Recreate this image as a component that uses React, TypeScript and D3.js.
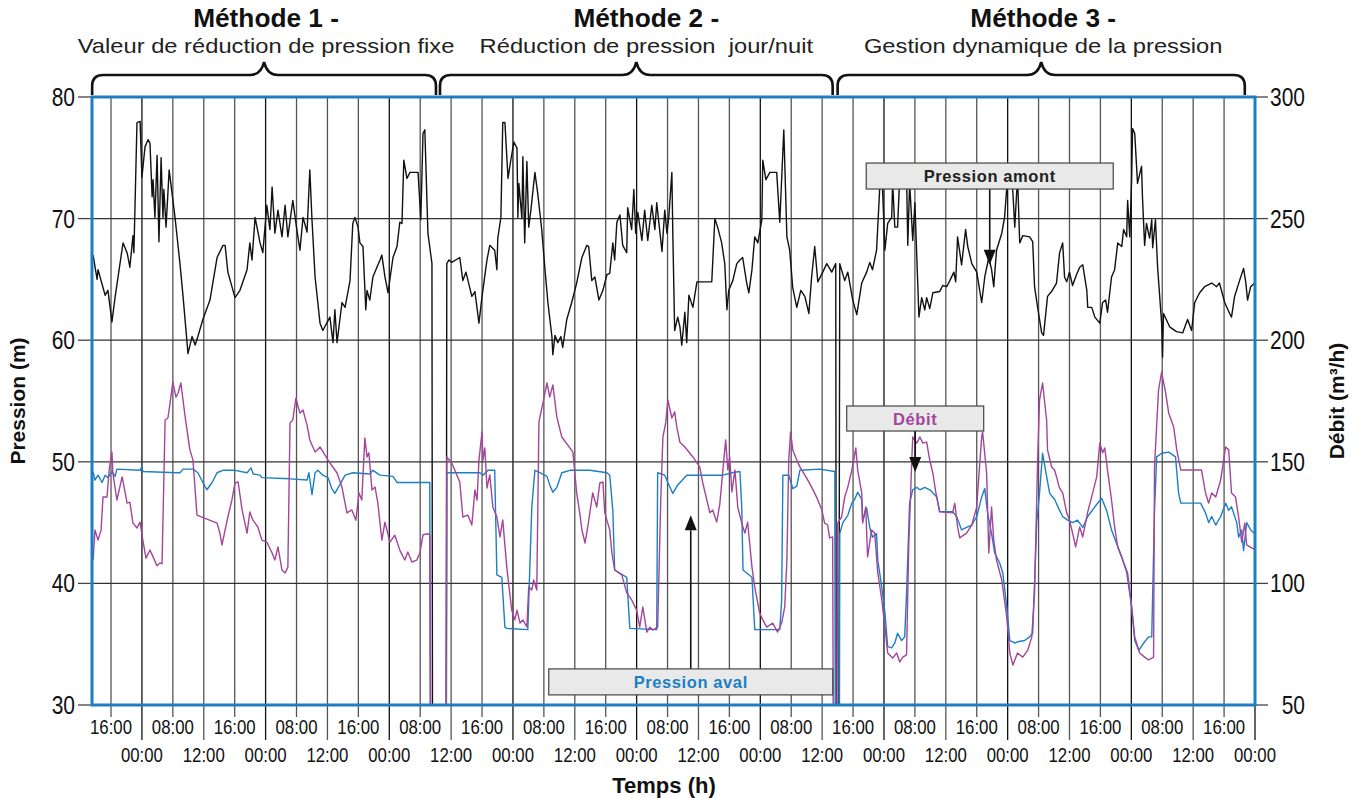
import React from 'react';
import * as d3 from 'd3';

// x unit: tick interval index (ticks at 0..37)
const TICK_LABELS = [
  '16:00','00:00','08:00','12:00','16:00','00:00','08:00','12:00','16:00','00:00',
  '08:00','12:00','16:00','00:00','08:00','12:00','16:00','00:00','08:00','12:00',
  '16:00','00:00','08:00','12:00','16:00','00:00','08:00','12:00','16:00','00:00',
  '08:00','12:00','16:00','00:00','08:00','12:00','16:00','00:00'
];
const PRESSION_TICKS = [30, 40, 50, 60, 70, 80];
const DEBIT_TICKS = [50, 100, 150, 200, 250, 300];
const PRESSION_GRID = [40, 50, 60, 70];

const METHOD_TITLES = ['Méthode 1 -', 'Méthode 2 -', 'Méthode 3 -'];
const METHOD_SUBTITLES = ['Valeur de réduction de pression fixe', 'Réduction de pression  jour/nuit', 'Gestion dynamique de la pression'];
const METHOD_SPANS = [[-0.61, 10.51], [10.64, 23.34], [23.5, 36.67]];

// Pression amont (m)
const AMONT = [
  [-0.58,67.0],[-0.45,65.0],[-0.42,65.8],[-0.19,63.7],[-0.10,64.1],[0.03,61.5],[0.13,63.5],[0.29,66.3],[0.39,68.0],[0.52,67.2],
  [0.61,66.0],[0.71,68.6],[0.74,67.2],[0.84,77.9],[0.94,78.0],[1.00,73.4],[1.10,75.9],[1.20,76.5],[1.26,76.2],[1.33,71.8],
  [1.36,73.2],[1.42,70.1],[1.49,75.2],[1.55,68.1],[1.62,75.0],[1.68,70.1],[1.71,72.4],[1.78,69.3],[1.88,74.0],[2.07,70.1],
  [2.23,66.3],[2.33,63.6],[2.49,58.9],[2.62,60.3],[2.72,59.6],[2.81,60.3],[2.97,61.7],[3.20,63.3],[3.43,66.8],[3.62,67.8],
  [3.69,67.8],[3.78,65.6],[4.01,63.5],[4.17,64.1],[4.40,65.8],[4.49,68.0],[4.56,66.6],[4.66,70.1],[4.82,68.0],[4.91,67.2],
  [5.04,71.1],[5.14,69.1],[5.21,72.6],[5.30,68.8],[5.40,70.7],[5.53,68.5],[5.63,71.1],[5.72,68.5],[5.88,71.5],[6.01,69.1],
  [6.11,67.4],[6.21,70.1],[6.34,68.9],[6.43,74.0],[6.50,69.9],[6.60,65.2],[6.76,61.4],[6.85,60.8],[7.08,61.9],[7.18,59.8],
  [7.24,62.5],[7.31,59.8],[7.47,63.1],[7.57,62.7],[7.73,64.9],[7.82,69.6],[7.89,70.1],[7.99,69.3],[8.05,68.0],[8.15,67.7],
  [8.24,62.5],[8.28,64.1],[8.37,63.3],[8.47,65.2],[8.60,66.0],[8.70,66.6],[8.76,67.0],[8.86,65.2],[8.96,63.9],[9.12,66.8],
  [9.25,67.7],[9.34,69.7],[9.41,69.6],[9.47,74.8],[9.57,73.3],[9.67,73.8],[9.93,73.8],[10.02,69.9],[10.09,77.0],[10.15,77.3],
  [10.25,68.8],[10.38,66.3],[10.41,0],[10.83,0],[10.86,66.3],[10.93,66.6],[11.02,66.4],[11.28,66.8],[11.38,64.9],[11.48,65.6],
  [11.67,63.6],[11.77,64.0],[11.90,61.4],[12.00,63.6],[12.16,66.6],[12.25,67.8],[12.41,67.4],[12.48,65.8],[12.51,68.4],[12.61,70.1],
  [12.67,77.9],[12.74,77.9],[12.84,73.3],[12.93,74.8],[13.03,76.3],[13.13,75.8],[13.16,70.1],[13.19,72.9],[13.29,70.0],[13.32,75.1],
  [13.38,68.0],[13.45,74.7],[13.51,69.3],[13.58,70.7],[13.71,73.8],[13.80,72.1],[13.93,69.1],[14.03,66.0],[14.13,63.1],[14.26,60.3],
  [14.29,58.8],[14.36,60.4],[14.45,59.8],[14.55,60.3],[14.61,59.4],[14.74,61.7],[14.90,63.1],[15.06,64.7],[15.23,66.8],[15.39,67.8],
  [15.45,67.7],[15.55,64.9],[15.65,65.2],[15.78,63.3],[15.91,64.1],[16.04,65.4],[16.13,65.5],[16.23,68.0],[16.29,66.6],[16.36,69.7],
  [16.46,70.3],[16.55,67.8],[16.68,67.2],[16.71,70.9],[16.84,69.1],[16.91,72.4],[16.97,68.8],[17.04,70.5],[17.17,68.2],[17.26,70.7],
  [17.36,68.2],[17.49,71.1],[17.59,69.1],[17.65,71.3],[17.82,67.3],[17.91,70.7],[17.98,68.8],[18.04,70.1],[18.14,73.8],[18.17,68.8],
  [18.23,60.8],[18.33,61.9],[18.40,61.1],[18.46,59.6],[18.56,62.3],[18.62,59.8],[18.69,63.7],[18.82,62.7],[18.95,64.8],[19.43,64.8],
  [19.53,70.0],[19.62,69.3],[19.75,68.0],[19.85,66.3],[19.92,62.5],[19.98,64.1],[20.11,64.9],[20.24,66.3],[20.34,66.6],[20.43,66.8],
  [20.56,64.7],[20.63,63.9],[20.73,65.8],[20.82,68.5],[20.92,68.0],[21.05,69.9],[21.08,74.8],[21.18,73.2],[21.31,73.8],[21.53,73.8],
  [21.63,69.7],[21.76,77.3],[21.86,68.5],[21.95,67.4],[22.05,64.3],[22.18,62.7],[22.31,64.1],[22.44,63.6],[22.57,62.2],[22.66,65.2],
  [22.76,67.7],[22.86,64.8],[23.02,65.6],[23.15,66.3],[23.31,65.6],[23.44,66.3],[23.47,0],[23.52,0],[23.57,66.3],[23.73,64.9],
  [23.83,65.6],[23.99,63.3],[24.12,62.1],[24.28,64.7],[24.44,65.6],[24.54,66.4],[24.63,65.8],[24.76,67.4],[24.86,72.4],[24.93,74.0],
  [25.03,67.4],[25.12,69.6],[25.25,70.1],[25.28,73.0],[25.35,69.3],[25.44,69.3],[25.51,73.5],[25.73,73.5],[25.77,67.8],[25.83,73.0],
  [25.93,68.2],[26.00,71.3],[26.13,61.9],[26.22,63.5],[26.32,62.5],[26.38,63.5],[26.48,62.6],[26.58,63.9],[26.80,64.0],[26.90,64.5],
  [27.03,64.4],[27.13,64.9],[27.26,65.6],[27.32,64.8],[27.38,68.5],[27.51,66.2],[27.64,69.1],[27.71,67.7],[27.84,66.3],[28.00,65.6],
  [28.16,63.1],[28.26,65.2],[28.39,66.8],[28.48,65.8],[28.55,64.4],[28.64,67.4],[28.81,68.8],[28.90,70.1],[29.00,73.5],[29.13,74.0],
  [29.23,69.3],[29.32,73.5],[29.39,68.0],[29.49,68.6],[29.71,68.5],[29.81,68.1],[29.87,64.4],[29.97,62.7],[30.10,60.6],[30.16,60.4],
  [30.29,63.6],[30.42,64.0],[30.58,64.7],[30.68,67.2],[30.78,68.0],[30.84,65.2],[30.91,64.8],[31.00,65.6],[31.10,64.5],[31.23,65.4],
  [31.33,66.0],[31.43,66.2],[31.56,64.1],[31.59,62.7],[31.72,62.7],[31.82,61.9],[31.98,61.4],[32.07,63.1],[32.17,63.3],[32.23,62.3],
  [32.36,65.2],[32.46,65.8],[32.56,68.0],[32.69,67.7],[32.75,69.1],[32.85,68.5],[32.88,71.5],[32.95,68.5],[33.01,73.2],[33.04,77.4],
  [33.11,77.0],[33.20,72.9],[33.33,74.3],[33.36,71.8],[33.43,67.8],[33.49,69.6],[33.59,68.4],[33.66,69.9],[33.69,67.6],[33.78,69.9],
  [33.85,66.0],[33.98,61.4],[34.01,58.6],[34.04,62.2],[34.24,61.1],[34.46,60.7],[34.66,60.6],[34.82,61.7],[34.95,60.8],[35.05,63.1],
  [35.21,63.9],[35.37,64.4],[35.60,64.7],[35.76,64.4],[35.85,64.7],[36.02,63.1],[36.18,62.2],[36.24,61.9],[36.34,63.6],[36.50,64.9],
  [36.63,65.9],[36.70,64.8],[36.76,63.3],[36.86,64.4],[36.99,64.7]
];

// Pression aval (m)
const AVAL = [
  [-0.58,49.2],[-0.52,48.5],[-0.42,48.9],[-0.29,48.3],[-0.19,48.9],[-0.10,48.7],[0.03,49.2],[0.13,48.8],[0.19,49.4],[0.94,49.3],
  [1.00,49.6],[1.03,49.2],[2.13,49.1],[2.23,49.1],[2.33,49.4],[2.65,49.4],[2.81,49.1],[2.97,48.3],[3.10,47.7],[3.27,48.3],
  [3.43,49.1],[3.62,49.3],[4.01,49.3],[4.40,49.1],[4.53,49.5],[4.60,49.0],[4.82,48.9],[4.88,48.7],[5.79,48.6],[6.34,48.5],
  [6.40,49.1],[6.50,47.3],[6.60,49.1],[6.69,49.3],[6.85,48.9],[7.02,48.7],[7.14,47.8],[7.24,47.4],[7.40,48.1],[7.57,48.9],
  [7.82,49.1],[8.37,49.0],[8.47,49.3],[8.70,48.9],[9.12,48.8],[9.25,48.3],[9.76,48.3],[10.31,48.3],[10.35,0],[10.83,0],
  [10.86,49.1],[11.93,49.1],[12.03,48.9],[12.19,49.3],[12.41,49.3],[12.48,40.7],[12.64,40.5],[12.74,36.4],[12.80,36.3],[13.48,36.2],
  [13.61,46.3],[13.71,49.3],[13.87,49.1],[14.10,48.8],[14.19,48.1],[14.29,47.5],[14.42,47.9],[14.58,49.1],[14.84,49.3],[15.49,49.3],
  [16.04,49.1],[16.13,48.9],[16.23,46.0],[16.29,41.1],[16.68,40.5],[16.78,36.3],[17.65,36.2],[17.68,49.1],[17.91,48.9],[18.01,48.3],
  [18.17,47.4],[18.33,48.1],[18.62,48.9],[19.79,48.9],[20.08,49.1],[20.34,49.2],[20.40,46.3],[20.44,41.1],[20.73,40.5],[20.82,36.2],
  [21.63,36.2],[21.69,38.6],[21.73,48.9],[21.92,48.9],[22.05,47.8],[22.18,48.0],[22.28,49.3],[22.93,49.4],[23.41,49.2],[23.44,0],
  [23.54,0],[23.57,44.1],[23.67,45.0],[23.83,45.6],[23.96,46.6],[24.05,46.9],[24.15,47.5],[24.28,46.9],[24.31,45.2],[24.44,46.2],
  [24.54,44.6],[24.63,43.8],[24.76,44.1],[24.80,41.9],[24.93,39.7],[25.03,37.6],[25.12,34.8],[25.25,34.7],[25.35,35.1],[25.44,35.9],
  [25.57,35.3],[25.67,35.6],[25.73,39.2],[25.83,46.6],[25.93,47.7],[26.06,47.9],[26.16,47.7],[26.32,47.9],[26.48,47.7],[26.71,47.1],
  [26.80,45.9],[27.22,45.9],[27.35,45.5],[27.51,44.4],[27.67,44.6],[27.84,44.8],[28.00,45.5],[28.16,47.1],[28.26,47.8],[28.35,45.8],
  [28.48,44.1],[28.58,42.5],[28.74,41.7],[28.84,40.9],[28.97,38.1],[29.07,35.3],[29.23,35.1],[29.32,35.2],[29.55,35.3],[29.71,35.6],
  [29.81,35.9],[29.94,45.0],[30.03,47.4],[30.13,50.7],[30.26,48.8],[30.36,47.4],[30.52,46.9],[30.68,46.0],[30.78,45.5],[30.94,45.2],
  [31.10,45.0],[31.26,45.2],[31.43,44.6],[31.59,45.5],[31.82,46.3],[32.04,47.0],[32.20,46.0],[32.36,44.4],[32.52,43.3],[32.69,42.2],
  [32.85,40.9],[33.01,38.1],[33.11,35.3],[33.24,34.5],[33.40,35.1],[33.56,35.6],[33.66,35.6],[33.75,46.0],[33.82,50.4],[33.98,50.7],
  [34.21,50.8],[34.43,50.4],[34.53,47.4],[34.60,46.6],[35.24,46.6],[35.40,45.8],[35.50,45.0],[35.60,45.5],[35.73,44.8],[35.89,45.5],
  [36.05,46.6],[36.15,46.0],[36.24,46.3],[36.41,45.0],[36.47,43.8],[36.57,44.4],[36.63,42.7],[36.73,45.0],[36.86,44.4],[36.99,44.1]
];

// Débit (m3/h)
const DEBIT = [
  [-0.58,109.6],[-0.52,122.0],[-0.42,117.8],[-0.32,122.0],[-0.26,135.5],[-0.13,135.5],[-0.06,146.6],[0.03,154.0],[0.06,145.4],[0.19,134.3],
  [0.36,143.8],[0.52,133.0],[0.61,133.4],[0.71,124.8],[0.84,122.8],[0.94,125.2],[1.03,117.8],[1.13,110.4],[1.26,113.7],[1.36,110.9],
  [1.49,107.2],[1.58,108.4],[1.65,108.0],[1.75,167.2],[1.84,168.0],[1.91,174.2],[2.00,182.8],[2.10,176.6],[2.17,178.3],[2.26,182.4],
  [2.39,169.2],[2.55,154.9],[2.65,150.8],[2.78,128.1],[3.43,124.8],[3.52,120.7],[3.59,115.8],[3.69,122.0],[3.78,127.3],[3.91,134.3],
  [4.01,141.3],[4.11,141.7],[4.24,130.2],[4.40,120.7],[4.49,129.4],[4.59,126.0],[4.75,123.2],[4.88,117.8],[5.04,117.0],[5.21,112.5],
  [5.30,109.6],[5.40,115.0],[5.53,105.5],[5.63,104.3],[5.72,106.7],[5.79,166.0],[5.88,167.2],[5.98,176.2],[6.11,170.0],[6.21,171.3],
  [6.34,165.1],[6.43,159.0],[6.60,154.0],[6.76,156.1],[7.02,150.7],[7.31,145.4],[7.47,139.6],[7.63,129.0],[7.79,130.2],[7.92,126.0],
  [8.02,137.2],[8.11,134.3],[8.21,159.8],[8.28,152.0],[8.34,153.7],[8.44,138.4],[8.54,139.6],[8.63,133.0],[8.76,117.8],[8.86,125.2],
  [9.02,117.0],[9.18,119.8],[9.34,113.7],[9.50,109.6],[9.60,112.9],[9.73,108.8],[9.89,109.6],[9.99,112.5],[10.09,120.0],[10.25,120.4],
  [10.31,120.0],[10.35,0],[10.83,0],[10.86,152.0],[11.02,149.5],[11.28,141.7],[11.38,127.3],[11.54,128.1],[11.67,124.0],[11.77,138.4],
  [11.84,134.3],[11.90,150.7],[12.00,162.3],[12.03,150.7],[12.09,155.7],[12.16,139.2],[12.25,144.6],[12.35,131.4],[12.48,127.3],[12.58,119.1],
  [12.67,126.1],[12.80,106.7],[12.96,89.0],[13.06,85.0],[13.13,89.0],[13.23,83.7],[13.32,85.0],[13.45,82.1],[13.51,98.5],[13.61,97.3],
  [13.67,101.4],[13.77,97.3],[13.84,166.4],[13.97,174.2],[14.10,182.4],[14.19,176.6],[14.29,181.6],[14.42,168.4],[14.58,160.2],[14.94,154.0],
  [15.06,137.2],[15.16,129.0],[15.23,122.0],[15.33,116.6],[15.42,123.2],[15.58,137.2],[15.71,131.4],[15.81,141.3],[15.91,141.7],[15.97,129.0],
  [16.13,122.0],[16.20,112.5],[16.29,105.5],[16.52,103.5],[16.68,96.1],[16.84,93.2],[17.00,89.0],[17.10,82.0],[17.20,90.3],[17.33,80.0],
  [17.43,82.0],[17.52,80.8],[17.68,82.0],[17.78,134.3],[17.85,160.2],[17.94,166.0],[18.01,175.4],[18.14,168.0],[18.23,170.5],[18.30,164.3],
  [18.40,158.0],[18.56,156.1],[18.82,152.0],[19.04,147.9],[19.14,141.3],[19.27,134.3],[19.37,129.0],[19.46,130.2],[19.59,125.2],[19.69,132.6],
  [19.79,146.6],[19.88,159.0],[19.95,146.6],[20.01,152.0],[20.08,137.6],[20.18,146.6],[20.27,131.4],[20.40,124.8],[20.50,120.7],[20.59,125.2],
  [20.73,106.7],[20.82,98.5],[20.98,87.8],[21.08,85.0],[21.21,82.0],[21.40,83.7],[21.56,80.0],[21.69,83.7],[21.79,90.3],[21.86,109.6],
  [21.92,150.7],[21.98,162.3],[22.05,154.9],[22.18,150.7],[22.28,147.9],[22.50,143.3],[22.66,139.6],[22.82,135.5],[22.99,130.2],[23.08,124.8],
  [23.18,124.0],[23.24,118.7],[23.34,119.1],[23.37,0],[23.47,0],[23.50,124.8],[23.63,127.3],[23.73,135.5],[23.83,139.6],[23.96,146.6],
  [24.02,150.7],[24.09,155.7],[24.15,146.6],[24.28,137.2],[24.31,124.8],[24.41,131.4],[24.47,110.9],[24.60,122.0],[24.70,120.7],[24.80,104.3],
  [24.93,93.2],[25.03,82.1],[25.12,71.4],[25.28,69.3],[25.41,71.4],[25.51,67.7],[25.61,69.7],[25.73,70.6],[25.80,115.0],[25.90,150.7],
  [25.93,160.2],[26.06,157.7],[26.16,160.2],[26.26,157.7],[26.38,158.1],[26.48,150.7],[26.58,145.4],[26.68,137.2],[26.80,129.4],[27.22,129.0],
  [27.29,133.0],[27.38,123.2],[27.45,118.7],[27.67,120.7],[27.84,124.0],[28.00,131.4],[28.03,137.2],[28.16,160.2],[28.19,162.3],[28.32,145.4],
  [28.39,112.5],[28.48,131.4],[28.55,117.8],[28.64,109.6],[28.81,101.4],[28.97,86.2],[29.07,71.4],[29.17,66.4],[29.32,71.4],[29.49,69.7],
  [29.65,72.6],[29.78,77.9],[29.87,96.0],[29.97,150.7],[30.03,175.4],[30.13,182.4],[30.26,167.2],[30.29,154.9],[30.42,147.9],[30.52,146.6],
  [30.68,139.2],[30.78,137.2],[30.91,129.0],[31.00,126.0],[31.10,120.7],[31.20,115.0],[31.33,123.2],[31.43,119.1],[31.59,129.4],[31.75,137.2],
  [31.88,143.8],[31.98,157.7],[32.07,153.7],[32.14,155.7],[32.23,146.6],[32.36,134.3],[32.46,123.2],[32.56,115.0],[32.72,109.6],[32.88,104.3],
  [33.01,90.3],[33.11,78.0],[33.27,71.4],[33.43,69.7],[33.56,68.5],[33.72,69.7],[33.75,147.9],[33.88,179.5],[33.98,186.9],[34.11,178.3],
  [34.21,170.0],[34.37,164.3],[34.47,154.9],[34.60,146.6],[35.27,146.6],[35.40,137.2],[35.50,133.0],[35.60,137.2],[35.73,135.5],[35.89,142.5],
  [36.05,156.1],[36.15,154.9],[36.24,137.2],[36.37,135.5],[36.47,127.3],[36.57,117.0],[36.67,124.8],[36.73,115.8],[36.89,114.6],[36.99,114.0]
];

// annotation boxes: [t, value] of box centre, value at arrow tip
const ANNOT_LABELS = ['Pression amont', 'Débit', 'Pression aval'];
const ANNOT_BOX = [[28.42, 73.5], [26.01, 167.8], [18.75, 31.9]];
const ANNOT_TIP = [66.2, 145.8, 45.6];
const ANNOT_AXIS = ['P', 'D', 'P'];

const BLUE = '#1b7fc4';
const PURPLE = '#a3459c';
const FONT = '"Liberation Sans", Arial, sans-serif';

export default function App() {
  const W = 1358, H = 798;
  const L = 92, R = 1255, T = 97, B = 705;
  const x = d3.scaleLinear().domain([-0.615, 37]).range([L, R]);
  const yP = d3.scaleLinear().domain([30, 80]).range([B, T]);
  const yD = d3.scaleLinear().domain([50, 300]).range([B, T]);
  const lineP = d3.line<number[]>().x(d => x(d[0])).y(d => yP(d[1]));
  const lineD = d3.line<number[]>().x(d => x(d[0])).y(d => yD(d[1]));
  const ticks = d3.range(TICK_LABELS.length);

  const bracePath = (x1: number, x2: number) => {
    const yb = 95, yt = 75, ytip = 62, r = 11;
    const xm = (x1 + x2) / 2;
    return `M${x1},${yb} L${x1},${yt + r} Q${x1},${yt} ${x1 + r},${yt} L${xm - 14},${yt} Q${xm - 3},${yt} ${xm},${ytip} Q${xm + 3},${yt} ${xm + 14},${yt} L${x2 - r},${yt} Q${x2},${yt} ${x2},${yt + r} L${x2},${yb}`;
  };

  const boxW = [247, 137, 284];
  const boxH = [26, 25, 26];
  const annotColor = ['#222', PURPLE, BLUE];

  return (
    <svg width={W} height={H} style={{ position: 'absolute', left: 0, top: 0, background: '#fff' }} fontFamily={FONT}>
      <defs>
        <clipPath id="plot"><rect x={L} y={T} width={R - L} height={B - T} /></clipPath>
      </defs>

      {/* method titles and braces */}
      {METHOD_SPANS.map((s, i) => {
        const x1 = x(s[0]), x2 = x(s[1]);
        const xm = (x1 + x2) / 2 + (i === 1 ? 10 : 2);
        return (
          <g key={'m' + i}>
            <path d={bracePath(x1, x2)} fill="none" stroke="#111" strokeWidth={2.6} />
            <text transform={`translate(${xm},27) scale(1.05,1)`} textAnchor="middle" fontWeight="bold" fontSize={25} fill="#111">{METHOD_TITLES[i]}</text>
            <text transform={`translate(${xm},53) scale(1.13,1)`} textAnchor="middle" fontSize={21} fill="#222" style={{ whiteSpace: 'pre' }}>{METHOD_SUBTITLES[i]}</text>
          </g>
        );
      })}

      {/* vertical grid + x ticks */}
      {ticks.map(i => {
        const xx = x(i);
        const low = i % 2 === 1;
        const col = TICK_LABELS[i] === '00:00' ? '#111' : '#555';
        return (
          <g key={'t' + i}>
            <line x1={xx} x2={xx} y1={T} y2={low ? 740 : 717} stroke={col} strokeWidth={1.3} />
            <text transform={`translate(${xx},${low ? 762 : 734}) scale(0.8,1)`} textAnchor="middle" fontSize={21} fill="#111">{TICK_LABELS[i]}</text>
          </g>
        );
      })}

      {/* horizontal grid */}
      {PRESSION_GRID.map(v => (
        <line key={'g' + v} x1={L} x2={R} y1={yP(v)} y2={yP(v)} stroke="#333" strokeWidth={1.2} />
      ))}

      {/* left axis */}
      {PRESSION_TICKS.map(v => (
        <g key={'lp' + v}>
          <line x1={78} x2={L} y1={yP(v)} y2={yP(v)} stroke="#444" strokeWidth={1.3} />
          <text transform={`translate(75,${yP(v) + 9}) scale(0.84,1)`} textAnchor="end" fontSize={25} fill="#111">{v}</text>
        </g>
      ))}
      {/* right axis */}
      {DEBIT_TICKS.map(v => (
        <g key={'rd' + v}>
          <line x1={R} x2={1268} y1={yD(v)} y2={yD(v)} stroke="#444" strokeWidth={1.3} />
          <text transform={`translate(1305,${yD(v) + 9}) scale(0.84,1)`} textAnchor="end" fontSize={25} fill="#111">{v}</text>
        </g>
      ))}

      {/* series */}
      <g clipPath="url(#plot)">
        <path d={lineP(AMONT) || ''} fill="none" stroke="#111" strokeWidth={1.4} strokeLinejoin="round" />
        <path d={lineP(AVAL) || ''} fill="none" stroke={BLUE} strokeWidth={1.4} strokeLinejoin="round" />
        <path d={lineD(DEBIT) || ''} fill="none" stroke={PURPLE} strokeWidth={1.4} strokeLinejoin="round" />
      </g>

      {/* frame */}
      <rect x={L} y={T} width={R - L} height={B - T} fill="none" stroke={BLUE} strokeWidth={3} />

      {/* annotations */}
      {ANNOT_LABELS.map((lab, i) => {
        const sc = ANNOT_AXIS[i] === 'P' ? yP : yD;
        const cx = x(ANNOT_BOX[i][0]);
        const cy = sc(ANNOT_BOX[i][1]);
        const tip = sc(ANNOT_TIP[i]);
        const w = boxW[i], h = boxH[i];
        const down = tip > cy;
        const start = down ? cy + h / 2 : cy - h / 2;
        const headLen = 15;
        const base = down ? tip - headLen : tip + headLen;
        return (
          <g key={'a' + i}>
            <line x1={cx} x2={cx} y1={start} y2={base} stroke="#111" strokeWidth={1.6} />
            <path d={`M${cx - 6},${base} L${cx + 6},${base} L${cx},${tip} Z`} fill="#111" />
            <rect x={cx - w / 2} y={cy - h / 2} width={w} height={h} fill="#e8e9e8" stroke="#444" strokeWidth={1.2} />
            <text x={cx} y={cy + 6} textAnchor="middle" fontSize={16.5} fontWeight="bold" letterSpacing={0.6} fill={annotColor[i]}>{lab}</text>
          </g>
        );
      })}

      {/* axis titles */}
      <text transform={`translate(25,${(T + B) / 2}) rotate(-90)`} textAnchor="middle" fontWeight="bold" fontSize={21} fill="#111">Pression (m)</text>
      <text transform={`translate(1344,${(T + B) / 2}) rotate(-90)`} textAnchor="middle" fontWeight="bold" fontSize={21} fill="#111">Débit (m³/h)</text>
      <text x={664} y={793} textAnchor="middle" fontWeight="bold" fontSize={22} fill="#111">Temps (h)</text>
    </svg>
  );
}
